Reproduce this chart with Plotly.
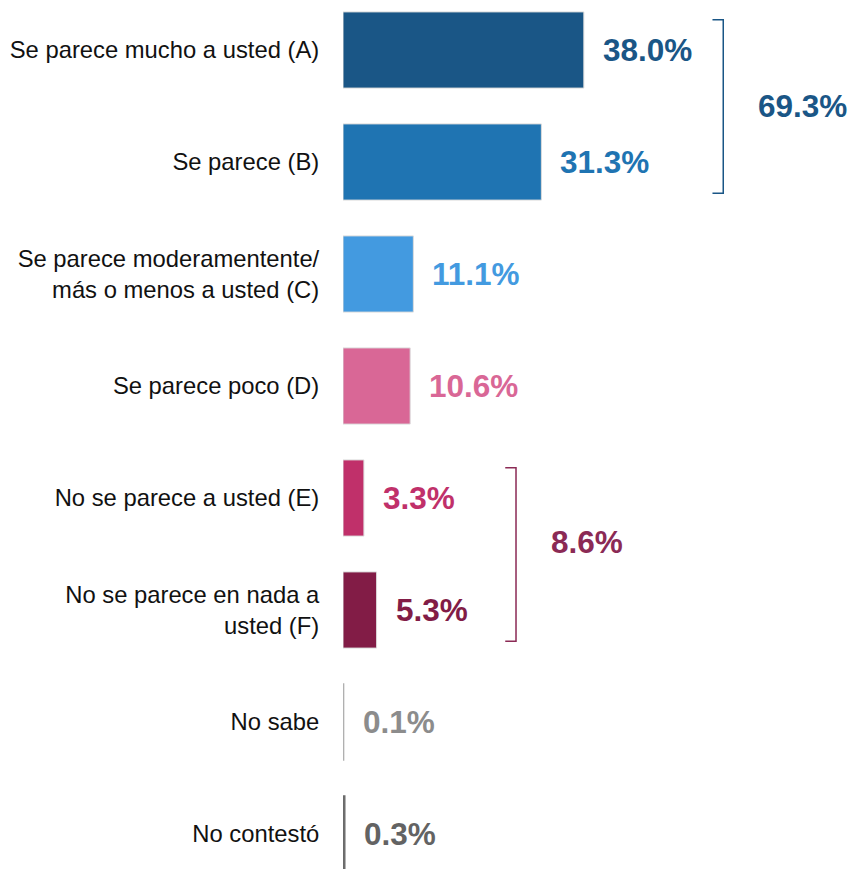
import plotly.graph_objects as go

categories = [
    "Se parece mucho a usted (A)",
    "Se parece (B)",
    "Se parece moderamentente/<br>más o menos a usted (C)",
    "Se parece poco (D)",
    "No se parece a usted (E)",
    "No se parece en nada a<br>usted (F)",
    "No sabe",
    "No contestó",
]
values = [38.0, 31.3, 11.1, 10.6, 3.3, 5.3, 0.1, 0.3]
value_labels = ["38.0%", "31.3%", "11.1%", "10.6%", "3.3%", "5.3%", "0.1%", "0.3%"]
bar_colors = ["#1a5686", "#1f74b2", "#439ae0", "#d96796", "#c0306a", "#821c46", "#b0b0b0", "#6b6b6b"]
label_colors = ["#1a5686", "#1f74b2", "#439ae0", "#d96796", "#c0306a", "#821c46", "#8c8c8c", "#636363"]
edge_colors = ["#dcdcdc"] * 6 + ["#b0b0b0", "#6b6b6b"]
edge_widths = [1] * 6 + [1.4, 1.2]

# groups: (first index, last index, total label, color)
group_first = [0, 4]
group_last = [1, 5]
group_labels = ["69.3%", "8.6%"]
group_colors = ["#1a5686", "#8b2a55"]

FONT = "Liberation Sans, Arial, Helvetica, sans-serif"

fig = go.Figure()
fig.add_trace(go.Bar(
    y=categories,
    x=values,
    orientation="h",
    width=0.68,
    marker=dict(color=bar_colors, line=dict(color=edge_colors, width=edge_widths)),
    hoverinfo="skip",
))

for cat, v, lab, col in zip(categories, values, value_labels, label_colors):
    fig.add_annotation(
        x=v, y=cat, text=f"<b>{lab}</b>", showarrow=False,
        xanchor="left", yanchor="middle", xshift=17,
        font=dict(family=FONT, size=31.5, color=col),
    )

BRACKET_OFFSET = 22.0
ARM = 1.7
PAD_TOP = 0.27
PAD_BOT = 0.28
group_yshift = [0, 12]
for g0, g1, glab, gcol, ys in zip(group_first, group_last, group_labels, group_colors, group_yshift):
    bx = max(values[g0:g1 + 1]) + BRACKET_OFFSET
    ytop = g0 - PAD_TOP
    ybot = g1 + PAD_BOT
    path = f"M {bx-ARM},{ytop} L {bx},{ytop} L {bx},{ybot} L {bx-ARM},{ybot}"
    fig.add_shape(type="path", path=path, xref="x", yref="y",
                  line=dict(color=gcol, width=1.5))
    fig.add_annotation(
        x=bx, y=(g0 + g1) / 2, text=f"<b>{glab}</b>", showarrow=False,
        xanchor="left", yanchor="middle", xshift=33, yshift=ys,
        font=dict(family=FONT, size=31.5, color=gcol),
    )

fig.update_layout(
    width=850, height=869,
    margin=dict(l=343, r=0, t=0, b=0),
    paper_bgcolor="white", plot_bgcolor="white",
    showlegend=False,
    font=dict(family=FONT, size=23, color="#111111"),
    xaxis=dict(range=[0, 80], visible=False, fixedrange=True),
    yaxis=dict(
        type="category",
        categoryorder="array", categoryarray=categories,
        range=[7.3125, -0.4464],
        showgrid=False, zeroline=False, showline=False,
        ticks="outside", ticklen=18, tickcolor="rgba(0,0,0,0)",
        tickfont=dict(family=FONT, size=23.8, color="#111111"),
        fixedrange=True,
    ),
)

fig.write_html(
    "out.html",
    config={"displayModeBar": False, "staticPlot": True},
    post_script="document.body.style.margin='0';document.body.style.overflow='hidden';",
)
